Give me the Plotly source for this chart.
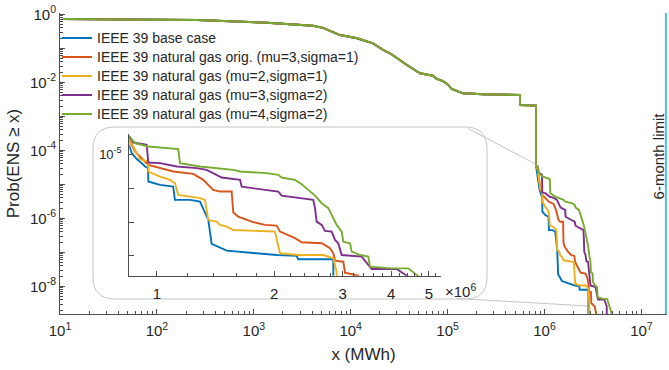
import math
import plotly.graph_objects as go

# ---------------- data ----------------
# common head of all CCDF curves (x in MWh, probability)
head_x = [10.7, 259, 1368, 2366, 4084, 5176, 7754, 11620, 16990, 21680, 25450, 38110,
          51880, 70630, 77270, 89570, 101600, 110200, 124100, 144300, 231800,
          558500, 558500, 816600, 816600]
head_p = [0.727, 0.68, 0.566, 0.518, 0.462, 0.40, 0.246, 0.197, 0.140, 0.0891, 0.0713, 0.0323,
          0.0184, 0.0156, 0.0125, 0.0109, 0.00833, 0.00635, 0.00555, 0.00475, 0.00444,
          0.00423, 0.00215, 0.00206, 3.5e-5]

base_x = [849000, 861000, 887000, 913000, 932000, 948000, 950000, 1018000, 1101000, 1112000,
          1216000, 1290000, 1355000, 1382000, 1424000, 1511000, 1804000, 2031000, 2286000,
          2308000, 2840000, 2841000]
base_p = [1.78e-5, 1.09e-5, 7.22e-6, 5.49e-6, 4.36e-6, 4.0e-6, 1.57e-6, 1.25e-6, 1.11e-6, 4.50e-7,
          4.50e-7, 4.02e-7, 1.15e-7, 2.25e-8, 1.96e-8, 1.43e-8, 1.19e-8, 1.06e-8, 1.0e-8,
          7.93e-9, 7.93e-9, 1e-10]

orig_x = [849000, 852000, 878000, 904000, 950000, 1101000, 1240000, 1315000, 1395000, 1452000,
          1556000, 1571000, 1618000, 1752000, 1895000, 2031000, 2071000, 2264000, 2355000,
          2651000, 2785000, 2840000, 2869000, 3013000, 3043000, 3292000, 3450000, 3460000]
orig_p = [3.01e-5, 2.39e-5, 1.21e-5, 8.61e-6, 4.89e-6, 3.10e-6, 2.65e-6, 1.76e-6, 8.91e-7, 7.93e-7,
          7.93e-7, 1.90e-7, 1.44e-7, 1.03e-7, 8.21e-8, 7.82e-8, 5.20e-8, 3.32e-8, 2.53e-8,
          2.36e-8, 1.68e-8, 1.19e-8, 7.21e-9, 6.73e-9, 3.18e-9, 2.6e-9, 1.4e-9, 1e-10]

mu2s1_x = [849000, 869000, 887000, 904000, 950000, 950500, 1018000, 1080000, 1112000, 1134000,
           1216000, 1290000, 1328000, 1355000, 1424000, 1452000, 1511000, 1571000, 2011000,
           2071000, 2308000, 2677000, 2840000, 2897000, 2910000]
mu2s1_p = [2.69e-5, 1.70e-5, 1.09e-5, 7.22e-6, 6.12e-6, 3.10e-6, 2.20e-6, 1.76e-6, 1.41e-6, 6.34e-7,
           5.64e-7, 5.06e-7, 4.50e-7, 1.15e-7, 1.03e-7, 8.21e-8, 7.31e-8, 5.83e-8, 5.20e-8,
           1.19e-8, 1.06e-8, 1.06e-8, 8.49e-9, 3.3e-9, 1e-10]

mu3s2_x = [849000, 869000, 941000, 950000, 1018000, 1124000, 1265000, 1342000, 1410000, 1467000,
           1635000, 1651000, 1895000, 2050000, 2092000, 2308000, 2522000, 2548000, 2573000,
           2651000, 2703000, 2812000, 2869000, 2924000, 2984000, 3359000, 3564000, 4133000,
           4385000, 4450000]
mu3s2_p = [3.37e-5, 2.23e-5, 1.91e-5, 5.71e-6, 5.49e-6, 4.36e-6, 3.91e-6, 3.48e-6, 2.59e-6, 2.06e-6,
           1.76e-6, 1.11e-6, 8.91e-7, 7.93e-7, 6.04e-7, 5.27e-7, 4.50e-7, 2.56e-7, 1.03e-7,
           8.21e-8, 5.46e-8, 5.20e-8, 2.95e-8, 2.36e-8, 1.06e-8, 9.47e-9, 4.09e-9, 4.09e-9,
           2.6e-9, 1e-10]

mu4s2_x = [849000, 878000, 950000, 1134000, 1146000, 1290000, 1571000, 1635000, 1914000, 2050000,
           2092000, 2264000, 2355000, 2449000, 2548000, 2651000, 2757000, 2812000, 2897000,
           2984000, 3013000, 3134000, 3166000, 3326000, 3493000, 3528000, 4012000, 4426000,
           4651000, 5070000]
mu4s2_p = [3.37e-5, 2.14e-5, 1.70e-5, 1.43e-5, 5.49e-6, 4.36e-6, 3.48e-6, 3.10e-6, 2.78e-6, 2.47e-6,
           2.06e-6, 1.76e-6, 1.31e-6, 8.91e-7, 6.04e-7, 3.60e-7, 2.56e-7, 1.62e-7, 8.21e-8,
           5.20e-8, 2.63e-8, 2.36e-8, 1.33e-8, 1.06e-8, 9.47e-9, 4.79e-9, 4.27e-9, 4.27e-9,
           2.72e-9, 1.26e-9]

series_names = ["IEEE 39 base case",
                "IEEE 39 natural gas orig. (mu=3,sigma=1)",
                "IEEE 39 natural gas (mu=2,sigma=1)",
                "IEEE 39 natural gas (mu=3,sigma=2)",
                "IEEE 39 natural gas (mu=4,sigma=2)"]
series_tails = [(base_x, base_p), (orig_x, orig_p), (mu2s1_x, mu2s1_p),
                (mu3s2_x, mu3s2_p), (mu4s2_x, mu4s2_p)]
series_colors = ["#0072BD", "#D95319", "#EDB120", "#7E2F8E", "#77AC30"]

six_month_limit = 1.79e7     # MWh
limit_label = "6-month limit"

x_ticks = [10 ** k for k in range(1, 8)]
y_ticks = [10.0 ** k for k in range(-8, 1)]
inset_x_ticks = [1e6, 2e6, 3e6, 4e6, 5e6]
inset_x_labels = ["1", "2", "3", "4", "5"]
inset_y_ticks = [1e-8, 1e-7, 1e-6, 1e-5]

# ---------------- figure ----------------
W, H = 669, 370
ML, MR, MT, MB = 60, 2, 13, 56
PW, PH = W - ML - MR, H - MT - MB


def px(xp):
    return (xp - ML) / PW


def py(yp):
    return (H - MB - yp) / PH


FONT = "Liberation Sans, Arial, Helvetica, sans-serif"
TXT = "#262626"
AX = "#4d4d4d"

fig = go.Figure()

for name, (tx, tp), col in zip(series_names, series_tails, series_colors):
    xs = head_x + tx
    ps = head_p + tp
    fig.add_trace(go.Scatter(x=xs, y=ps, mode="lines", name=f'<span style="font-size:14px">{name}</span>',
                             line=dict(color=col, width=1.9), xaxis="x", yaxis="y"))

for name, (tx, tp), col in zip(series_names, series_tails, series_colors):
    xs = head_x + tx
    ps = head_p + tp
    fig.add_trace(go.Scatter(x=xs, y=ps, mode="lines", name=name, showlegend=False,
                             line=dict(color=col, width=1.9), xaxis="x2", yaxis="y2"))

fig.add_trace(go.Scatter(x=[six_month_limit, six_month_limit], y=[1e-10, 10], mode="lines",
                         showlegend=False, line=dict(color="#4DBEEE", width=2),
                         xaxis="x", yaxis="y", name=limit_label))

minor_main_x = [m * 10 ** d for d in range(1, 8) for m in range(2, 10)]
minor_main_y = [m * 10.0 ** d for d in range(-9, 0) for m in range(2, 10)]
minor_inset_x = [v * 1e5 for v in range(12, 54, 2) if v % 10 != 0]

tickfont = dict(family=FONT, size=15, color=TXT)

fig.update_layout(
    width=W, height=H,
    margin=dict(l=ML, r=MR, t=MT, b=MB, pad=0),
    paper_bgcolor="white", plot_bgcolor="white",
    font=dict(family=FONT, color=TXT),
    showlegend=True,
    legend=dict(x=px(57), y=py(23.5), xanchor="left", yanchor="top",
                bgcolor="rgba(0,0,0,0)", borderwidth=0,
                font=dict(family=FONT, size=12, color=TXT)),
    xaxis=dict(type="log", range=[1, 1 + PW / 96.9], showline=True, linecolor=AX, linewidth=1,
               mirror=False, showgrid=False, zeroline=False,
               ticks="inside", ticklen=5, tickcolor=AX,
               tickmode="array", tickvals=x_ticks,
               ticktext=[f"10<sup>{k}</sup>" for k in range(1, 8)],
               tickfont=tickfont, ticklabelstandoff=3,
               minor=dict(ticks="inside", ticklen=3, tickcolor=AX, tickmode="array",
                          tickvals=minor_main_x, showgrid=False),
               title=dict(text="x (MWh)", font=dict(family=FONT, size=17, color=TXT), standoff=10)),
    yaxis=dict(type="log", range=[-(H - MB - 14.3) / 34.0, (14.3 - MT) / 34.0],
               showline=True, linecolor=AX, linewidth=1,
               mirror=False, showgrid=False, zeroline=False,
               ticks="inside", ticklen=5, tickcolor=AX,
               tickmode="array", tickvals=y_ticks,
               ticktext=[(f"10<sup>{k}</sup>" if k % 2 == 0 else "") for k in range(-8, 1)],
               tickfont=tickfont,
               minor=dict(ticks="inside", ticklen=3, tickcolor=AX, tickmode="array",
                          tickvals=minor_main_y, showgrid=False),
               title=dict(text="Prob(ENS \u2265 x)", font=dict(family=FONT, size=17, color=TXT),
                          standoff=6)),
    xaxis2=dict(type="log", domain=[px(129.3), px(440.7)], anchor="y2",
                range=[math.log10(0.8489e6), math.log10(5.362e6)],
                showline=True, linecolor=AX, linewidth=1, showgrid=False, zeroline=False,
                ticks="inside", ticklen=5, tickcolor=AX,
                tickmode="array", tickvals=inset_x_ticks, ticktext=inset_x_labels,
                tickfont=dict(family=FONT, size=15, color=TXT), ticklabelstandoff=4,
                minor=dict(ticks="inside", ticklen=3, tickcolor=AX, tickmode="array",
                           tickvals=minor_inset_x, showgrid=False)),
    yaxis2=dict(type="log", domain=[py(275.7), py(134)], anchor="x2",
                range=[-8.586, -4.40],
                showline=True, linecolor=AX, linewidth=1, showgrid=False, zeroline=False,
                ticks="inside", ticklen=5, tickcolor=AX,
                tickmode="array", tickvals=inset_y_ticks,
                ticktext=["", "", "", "10<sup>-5</sup>"],
                tickfont=dict(family=FONT, size=13, color=TXT), ticklabelstandoff=4),
)

# rounded inset frame and connector lines
L, R, T, B = px(93), px(487), py(127), py(299)
rx, ry = 22 / PW, 22 / PH
frame = (f"M {L + rx},{T} L {R - rx},{T} Q {R},{T} {R},{T - ry} L {R},{B + ry} "
         f"Q {R},{B} {R - rx},{B} L {L + rx},{B} Q {L},{B} {L},{B + ry} "
         f"L {L},{T - ry} Q {L},{T} {L + rx},{T} Z")
GRAY = "#c4c4c4"
fig.add_shape(type="path", path=frame, xref="paper", yref="paper",
              line=dict(color=GRAY, width=1), fillcolor="white", layer="below")
fig.add_shape(type="line", xref="paper", yref="paper", x0=px(468), y0=py(128.5),
              x1=px(536.5), y1=py(164.5), line=dict(color=GRAY, width=1), layer="below")
fig.add_shape(type="line", xref="paper", yref="paper", x0=px(457), y0=py(298.5),
              x1=px(588), y1=py(306), line=dict(color=GRAY, width=1), layer="below")

fig.add_annotation(text=limit_label, xref="x", yref="y", x=math.log10(six_month_limit),
                   y=-(155.5 - 14.3) / 34.0, textangle=-90, showarrow=False, xshift=-7,
                   font=dict(family=FONT, size=15, color=TXT))
fig.add_annotation(text="\u00d710<sup>6</sup>", xref="paper", yref="paper", x=px(443), y=py(290),
                   xanchor="left", yanchor="middle", showarrow=False,
                   font=dict(family=FONT, size=15, color=TXT))

fig.write_html("out.html")
